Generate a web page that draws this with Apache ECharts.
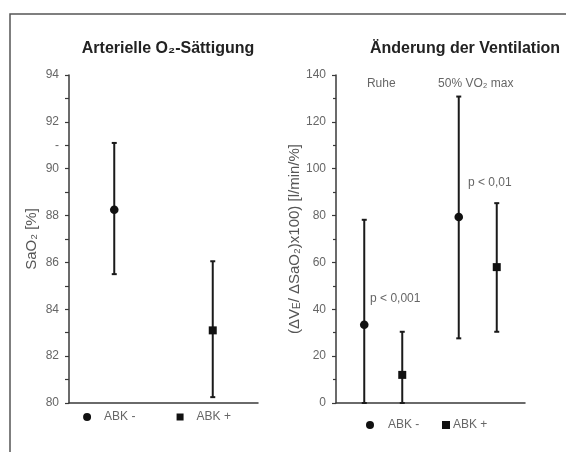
<!DOCTYPE html>
<html>
<head>
<meta charset="utf-8">
<script src="https://cdn.jsdelivr.net/npm/echarts@6/dist/echarts.min.js"></script>
<style>
html,body{margin:0;padding:0;background:#fff;}
#c{width:566px;height:452px;}
</style>
</head>
<body>
<div id="c"></div>
<script>
// ---- data ----
const leftCategories = ['ABK -', 'ABK +'];
const leftYTicks = [80, 94, 2];          // min, max, label step
// [category index, mean, lower, upper]
const leftMinus = [[0, 88.25, 85.5, 91.1]];
const leftPlus  = [[1, 83.1, 80.25, 86.05]];

const rightCategories = ['Ruhe', '50% VO₂ max'];
const rightYTicks = [0, 140, 20];
const rightMinus = [[0, 33.4, 0, 78.2], [1, 79.4, 27.6, 130.8]];
const rightPlus  = [[0, 12.0, 0, 30.4], [1, 58.0, 30.4, 85.3]];
// [category index, y value, text]
const pAnnotations = [[0, 44.6, 'p < 0,001'], [1, 94, 'p < 0,01']];

// ---- styles ----
const FONT = '"Liberation Sans", Arial, sans-serif';
const INK = '#1a1a1a';
const AXIS = '#3a3a3a';
const LABEL = '#666';

function errorBar(offsetPx, symbol) {
  return function (params, api) {
    const x = api.value(0);
    const pm = api.coord([x, api.value(1)]);
    const pl = api.coord([x, api.value(2)]);
    const ph = api.coord([x, api.value(3)]);
    const cx = pm[0] + offsetPx;
    const st = { stroke: INK, lineWidth: 2 };
    const cap = 2.5;
    const mark = symbol === 'circle'
      ? { type: 'circle', shape: { cx: cx, cy: pm[1], r: 4.3 }, style: { fill: '#111' } }
      : { type: 'rect', shape: { x: cx - 4, y: pm[1] - 4, width: 8, height: 8 }, style: { fill: '#111' } };
    return {
      type: 'group',
      children: [
        { type: 'line', shape: { x1: cx, y1: ph[1], x2: cx, y2: pl[1] }, style: st },
        { type: 'line', shape: { x1: cx - cap, y1: ph[1], x2: cx + cap, y2: ph[1] }, style: st },
        { type: 'line', shape: { x1: cx - cap, y1: pl[1], x2: cx + cap, y2: pl[1] }, style: st },
        mark
      ]
    };
  };
}

function yAxisBase(t, gridIndex) {
  return {
    type: 'value', gridIndex: gridIndex, min: t[0], max: t[1],
    axisLine: { show: true, lineStyle: { color: AXIS, width: 1.5 } },
    axisTick: { show: true, length: 4, lineStyle: { color: AXIS, width: 1.2 } },
    splitLine: { show: false },
    axisLabel: { color: LABEL, fontSize: 12, fontFamily: FONT, margin: 10 },
    nameLocation: 'middle', nameGap: 30,
    nameTextStyle: { color: '#555', fontSize: 15, fontFamily: FONT }
  };
}

const yLeft = yAxisBase(leftYTicks, 0);
yLeft.interval = 1;
yLeft.axisLabel.formatter = function (v) {
  if (v % leftYTicks[2] === 0) return String(v);
  return v === 91 ? '-' : '';
};
yLeft.name = 'SaO₂ [%]';

const yRight = yAxisBase(rightYTicks, 1);
yRight.interval = rightYTicks[2];
yRight.minorTick = { show: true, splitNumber: 2, length: 3, lineStyle: { color: AXIS, width: 1.2 } };
yRight.name = '(ΔV{s|E}/ ΔSaO₂)x100) [l/min/%]';
yRight.nameTextStyle.rich = { s: { fontSize: 10, color: '#555', fontFamily: FONT, verticalAlign: 'bottom' } };

const option = {
  animation: false,
  backgroundColor: '#fff',
  title: [
    { text: 'Arterielle O₂-Sättigung', left: 168, top: 41, textAlign: 'center', padding: 0,
      textStyle: { fontSize: 16, fontWeight: 'bold', color: '#222', fontFamily: FONT } },
    { text: 'Änderung der Ventilation', left: 465, top: 41, textAlign: 'center', padding: 0,
      textStyle: { fontSize: 16, fontWeight: 'bold', color: '#222', fontFamily: FONT } }
  ],
  legend: [
    { data: [{ name: 'ABK -', icon: 'circle' }], left: 366, top: 419, itemWidth: 8, itemHeight: 8,
      selectedMode: false, padding: 0,
      textStyle: { color: LABEL, fontSize: 12, fontFamily: FONT, padding: [0, 0, 0, 9] } },
    { data: [{ name: 'ABK +', icon: 'rect' }], left: 442, top: 419, itemWidth: 8, itemHeight: 8,
      selectedMode: false, padding: 0,
      textStyle: { color: LABEL, fontSize: 12, fontFamily: FONT, padding: [0, 0, 0, -2] } }
  ],
  grid: [
    { left: 69, right: 308, top: 75, bottom: 49 },
    { left: 336, right: 41, top: 75, bottom: 49 }
  ],
  xAxis: [
    { type: 'category', gridIndex: 0, data: leftCategories, boundaryGap: true,
      axisLine: { lineStyle: { color: AXIS, width: 1.5 } },
      axisTick: { length: 4, lineStyle: { color: AXIS, width: 1.2 } },
      axisLabel: {
        interval: 0,
        color: LABEL, fontSize: 12, fontFamily: FONT, margin: 8, padding: [0, 14, 0, 0],
        formatter: function (v, i) { return (i === 0 ? '{c|}' : '{s|}') + '{g|}' + v; },
        rich: {
          c: { width: 8, height: 8, borderRadius: 4, backgroundColor: '#111' },
          s: { width: 7, height: 7, backgroundColor: '#111' },
          g: { width: 13 }
        }
      } },
    { type: 'category', gridIndex: 1, data: rightCategories, boundaryGap: true,
      axisLine: { lineStyle: { color: AXIS, width: 1.5 } },
      axisTick: { length: 4, lineStyle: { color: AXIS, width: 1.2 } },
      axisLabel: { show: false } },
    { type: 'category', gridIndex: 1, data: rightCategories, position: 'top', boundaryGap: true,
      axisLine: { show: false }, axisTick: { show: false },
      axisLabel: { interval: 0, inside: true, margin: 3, color: LABEL, fontSize: 12, fontFamily: FONT, padding: [0, 4, 0, 0] } }
  ],
  yAxis: [yLeft, yRight],
  graphic: [
    { type: 'polyline', shape: { points: [[10, 452], [10, 14], [566, 14]] },
      style: { stroke: '#555', lineWidth: 1.5, fill: null } }
  ],
  series: [
    { name: 'ABK -', type: 'custom', xAxisIndex: 0, yAxisIndex: 0, itemStyle: { color: '#111' },
      renderItem: errorBar(-2, 'circle'), data: leftMinus, encode: { x: 0, y: [1, 2, 3] } },
    { name: 'ABK +', type: 'custom', xAxisIndex: 0, yAxisIndex: 0, itemStyle: { color: '#111' },
      renderItem: errorBar(2, 'square'), data: leftPlus, encode: { x: 0, y: [1, 2, 3] } },
    { name: 'ABK -', type: 'custom', xAxisIndex: 1, yAxisIndex: 1, itemStyle: { color: '#111' },
      renderItem: errorBar(-19, 'circle'), data: rightMinus, encode: { x: 0, y: [1, 2, 3] } },
    { name: 'ABK +', type: 'custom', xAxisIndex: 1, yAxisIndex: 1, itemStyle: { color: '#111' },
      renderItem: errorBar(19, 'square'), data: rightPlus, encode: { x: 0, y: [1, 2, 3] } },
    { name: 'p', type: 'custom', xAxisIndex: 1, yAxisIndex: 1, silent: true,
      renderItem: function (params, api) {
        const p = api.coord([api.value(0), api.value(1)]);
        return { type: 'text', x: p[0] + 12, y: p[1],
          style: { text: pAnnotations[params.dataIndex][2], fill: LABEL, fontSize: 12,
                   fontFamily: FONT, align: 'center', verticalAlign: 'middle' } };
      },
      data: pAnnotations.map(function (a) { return [a[0], a[1]]; }) }
  ]
};

const chart = echarts.init(document.getElementById('c'), null, { renderer: 'canvas' });
chart.setOption(option);
</script>
</body>
</html>
